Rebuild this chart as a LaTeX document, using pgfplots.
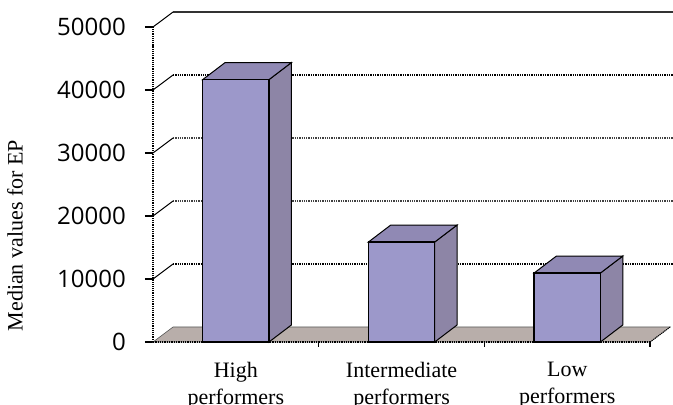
\documentclass[border=0pt]{standalone}
\usepackage{pgfplots}
\pgfplotsset{compat=1.18}
\usepackage{fontspec}
\setmainfont{Liberation Serif}
\newfontfamily\tickfont{Open Sans}
\definecolor{barfront}{HTML}{9C98CA}
\definecolor{bartop}{HTML}{9089B4}
\definecolor{barside}{HTML}{8D85A6}
\definecolor{floorc}{HTML}{B8AEAA}
\begin{document}
\begin{tikzpicture}
\begin{axis}[
 at={(153bp,63bp)}, anchor=south west,
 scale only axis, width=520bp, height=342bp,
 xmin=-0.5, xmax=2.638, ymin=0, ymax=54286,
 clip=false,
 axis lines*=left, axis line style={draw=none},
 tick align=outside,
 major tick length=8bp,
 ytick={0,10000,20000,30000,40000,50000},
 yticklabels={0,10000,20000,30000,40000,50000},
 yticklabel style={font=\tickfont\fontsize{24bp}{26bp}\selectfont, anchor=east, inner sep=0pt, xshift=-19bp},
 ytick style={black, line width=1.3bp},
 xtick={0,1,2},
 xticklabels={High\\performers, Intermediate\\performers, Low\\performers},
 xtick style={draw=none},
 xticklabel style={font=\fontsize{22bp}{27bp}\selectfont, align=center, anchor=north, inner sep=0pt, yshift=-12bp},
 ylabel={Median values for EP},
 ylabel style={font=\fontsize{22bp}{25bp}\selectfont, at={(axis description cs:-0.2654,0.311)}, anchor=center},
]
% back wall gridlines
\addplot[gray!40!black, line width=1.6bp] coordinates {(-0.3793,52381) (2.638,52381)};
\addplot[black, line width=1.3bp, densely dotted] coordinates {(-0.3793,42381) (2.638,42381)};
\addplot[black!75, line width=1.3bp, densely dotted] coordinates {(-0.3793,32381) (2.638,32381)};
\addplot[black!75, line width=1.3bp, densely dotted] coordinates {(-0.3793,22381) (2.638,22381)};
\addplot[black, line width=1.3bp, densely dotted] coordinates {(-0.3793,12381) (2.638,12381)};
% side wall diagonals
\addplot[black, line width=1bp] coordinates {(-0.5,50000) (-0.3793,52381)};
\addplot[black, line width=1bp] coordinates {(-0.5,40000) (-0.3793,42381)};
\addplot[black, line width=1bp] coordinates {(-0.5,30000) (-0.3793,32381)};
\addplot[black, line width=1bp] coordinates {(-0.5,20000) (-0.3793,22381)};
\addplot[black, line width=1bp] coordinates {(-0.5,10000) (-0.3793,12381)};
% floor
\addplot[fill=floorc, draw=gray!70!black, line width=0.6bp] coordinates {(-0.5,0) (2.5,0) (2.6207,2381) (-0.3793,2381)} --cycle;
% front axes
\addplot[black, line width=1.3bp, densely dotted] coordinates {(-0.5,0) (2.5,0)};
\addplot[black, line width=1bp, densely dotted] coordinates {(2.5,0) (2.6207,2381)};
\addplot[black, line width=1.2bp, densely dotted] coordinates {(-0.5,0) (-0.5,50000)};
\addplot[black, line width=1.3bp] coordinates {(0.5,0) (0.5,-800)};
\addplot[black, line width=1.3bp] coordinates {(1.5,0) (1.5,-800)};
\addplot[black, line width=1.3bp] coordinates {(2.5,0) (2.5,-800)};
% bars: High
\addplot[fill=barside, draw=black, line width=1bp] coordinates {(0.2,0) (0.335,2700) (0.335,44350) (0.2,41650)} --cycle;
\addplot[fill=bartop, draw=black, line width=1bp] coordinates {(-0.2,41650) (0.2,41650) (0.335,44350) (-0.065,44350)} --cycle;
\addplot[fill=barfront, draw=black, line width=1.5bp] coordinates {(-0.2,0) (0.2,0) (0.2,41650) (-0.2,41650)} --cycle;
% Intermediate
\addplot[fill=barside, draw=black, line width=1bp] coordinates {(1.2,0) (1.335,2700) (1.335,18570) (1.2,15870)} --cycle;
\addplot[fill=bartop, draw=black, line width=1bp] coordinates {(0.8,15870) (1.2,15870) (1.335,18570) (0.935,18570)} --cycle;
\addplot[fill=barfront, draw=black, line width=1.5bp] coordinates {(0.8,0) (1.2,0) (1.2,15870) (0.8,15870)} --cycle;
% Low
\addplot[fill=barside, draw=black, line width=1bp] coordinates {(2.2,0) (2.335,2700) (2.335,13650) (2.2,10950)} --cycle;
\addplot[fill=bartop, draw=black, line width=1bp] coordinates {(1.8,10950) (2.2,10950) (2.335,13650) (1.935,13650)} --cycle;
\addplot[fill=barfront, draw=black, line width=1.5bp] coordinates {(1.8,0) (2.2,0) (2.2,10950) (1.8,10950)} --cycle;
\end{axis}
\pgfresetboundingbox
\path[use as bounding box] (0,0) rectangle (673bp,405bp);
\end{tikzpicture}
\end{document}
